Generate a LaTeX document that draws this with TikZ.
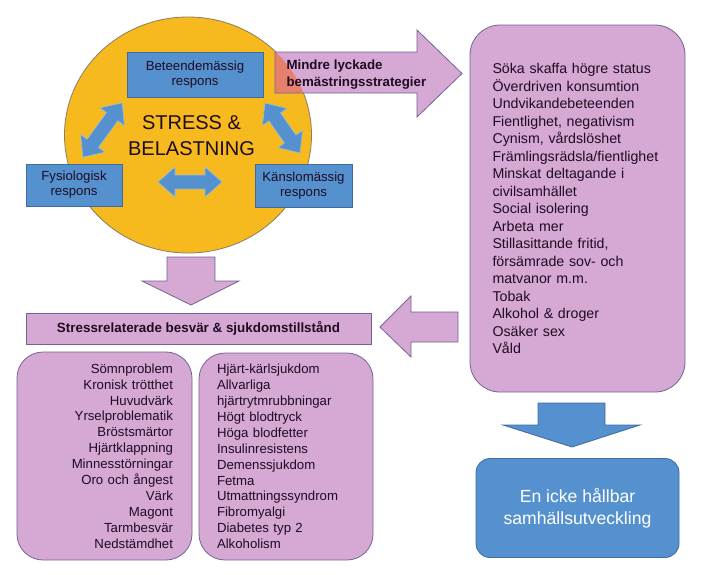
\documentclass[tikz,border=0pt]{standalone}
\usepackage{fontspec}
\setmainfont{Liberation Sans}
\usetikzlibrary{shapes.geometric}
\definecolor{lila}{RGB}{214,168,212}
\definecolor{lilaline}{RGB}{115,100,145}
\definecolor{gul}{RGB}{246,185,30}
\definecolor{gulline}{RGB}{140,125,95}
\definecolor{bla}{RGB}{86,145,207}
\definecolor{blaline}{RGB}{62,108,160}
\definecolor{blaedge}{RGB}{150,190,225}
\definecolor{lax}{RGB}{231,128,106}
\definecolor{ink}{RGB}{30,12,35}
\newcommand{\mindrearrow}{(275,52) -- (417,52) -- (417,30) -- (462,73.5) -- (417,117) -- (417,93) -- (275,93) -- cycle}

\begin{document}
\begin{tikzpicture}[x=1pt,y=-1pt, every node/.style={text=ink},
  bluebox/.style={draw=blaline,fill=bla,align=center,inner sep=0pt,font=\fontsize{13.2}{15}\selectfont},
  listbox/.style={draw=lilaline,fill=lila,rounded corners=26pt,line width=0.8pt,inner sep=0pt,font=\fontsize{13.2}{15.9}\selectfont},
  blockarr/.style={draw=lilaline,fill=lila,line width=0.8pt},
  dblarr/.style={draw=blaedge,fill=bla,line width=0.6pt}]
\path[use as bounding box,fill=white] (0,0) rectangle (707,574);
\node[ellipse,draw=gulline,fill=gul,line width=0.8pt,minimum width=247pt,minimum height=236pt] (stresscirc) at (188,135) {};
\node[bluebox,minimum width=136pt,minimum height=45pt] (beteende) at (195,74.5) {Beteendemässig\\respons};
\node[bluebox,minimum width=96pt,minimum height=42pt] (fysio) at (74,185) {Fysiologisk\\respons};
\node[bluebox,minimum width=97pt,minimum height=43pt] (kansla) at (303.5,185.5) {Känslomässig\\respons};
\node[align=center,font=\fontsize{20}{26}\selectfont] (stress) at (191.5,136) {STRESS \&\\BELASTNING};
\foreach \cx/\cy/\ang/\len in {102.5/130/54/67, 282.5/128/-55/61, 190/182/0/64}
  \draw[dblarr,shift={(\cx,\cy)},rotate=\ang] ({-\len/2},0) -- ({-\len/2+17},-15) -- ({-\len/2+17},-7) -- ({\len/2-17},-7) -- ({\len/2-17},-15) -- ({\len/2},0) -- ({\len/2-17},15) -- ({\len/2-17},7) -- ({-\len/2+17},7) -- ({-\len/2+17},15) -- cycle;
\fill[lila] \mindrearrow;
\begin{scope}
  \clip (stresscirc.center) ellipse [x radius=123.5,y radius=118];
  \fill[lax] \mindrearrow;
\end{scope}
\draw[lilaline,line width=0.8pt] \mindrearrow;
\node[anchor=west,align=left,font=\bfseries\fontsize{13.3}{17}\selectfont] (mindre) at (283,74.5) {Mindre lyckade\\bemästringsstrategier};
\node[listbox,rounded corners=30pt,minimum width=215pt,minimum height=367pt,text width=170pt,align=left,font=\fontsize{14.2}{17.5}\selectfont] (beteenden) at (577.5,208.5) {Söka skaffa högre status\\Överdriven konsumtion\\Undvikandebeteenden\\Fientlighet, negativism\\Cynism, vårdslöshet\\Främlingsrädsla/fientlighet\\Minskat deltagande i\\civilsamhället\\Social isolering\\Arbeta mer\\Stillasittande fritid,\\försämrade sov- och\\matvanor m.m.\\Tobak\\Alkohol \& droger\\Osäker sex\\Våld};
\draw[blockarr] (167,257) -- (215,257) -- (215,281) -- (239,281) -- (191,305) -- (142,281) -- (167,281) -- cycle;
\node[draw=lilaline,fill=lila,line width=0.8pt,minimum width=345pt,minimum height=31pt,inner sep=0pt,font=\bfseries\fontsize{13.4}{15}\selectfont] (besvar) at (198.5,328.5) {Stressrelaterade besvär \& sjukdomstillstånd};
\node[listbox,minimum width=175pt,minimum height=208pt,text width=137pt,align=right] (symtom) at (104.5,456) {Sömnproblem\\Kronisk trötthet\\Huvudvärk\\Yrselproblematik\\Bröstsmärtor\\Hjärtklappning\\Minnesstörningar\\Oro och ångest\\Värk\\Magont\\Tarmbesvär\\Nedstämdhet};
\node[listbox,minimum width=174pt,minimum height=207pt,text width=138pt,align=left] (sjukdom) at (286,456.5) {Hjärt-kärlsjukdom\\Allvarliga\\hjärtrytmrubbningar\\Högt blodtryck\\Höga blodfetter\\Insulinresistens\\Demenssjukdom\\Fetma\\Utmattningssyndrom\\Fibromyalgi\\Diabetes typ 2\\Alkoholism};
\draw[blockarr] (458,312) -- (411,312) -- (411,296) -- (380,327) -- (411,357) -- (411,342) -- (458,342) -- cycle;
\draw[draw=blaline,fill=bla,line width=0.8pt] (538,403) -- (605,403) -- (605,425) -- (640,425) -- (572,447) -- (503,425) -- (538,425) -- cycle;
\node[draw=blaline,fill=bla,line width=0.8pt,rounded corners=14pt,minimum width=203pt,minimum height=99pt,text=white,align=center,font=\fontsize{17.6}{22}\selectfont] (hallbar) at (577.5,508) {En icke hållbar\\samhällsutveckling};
\end{tikzpicture}
\end{document}
